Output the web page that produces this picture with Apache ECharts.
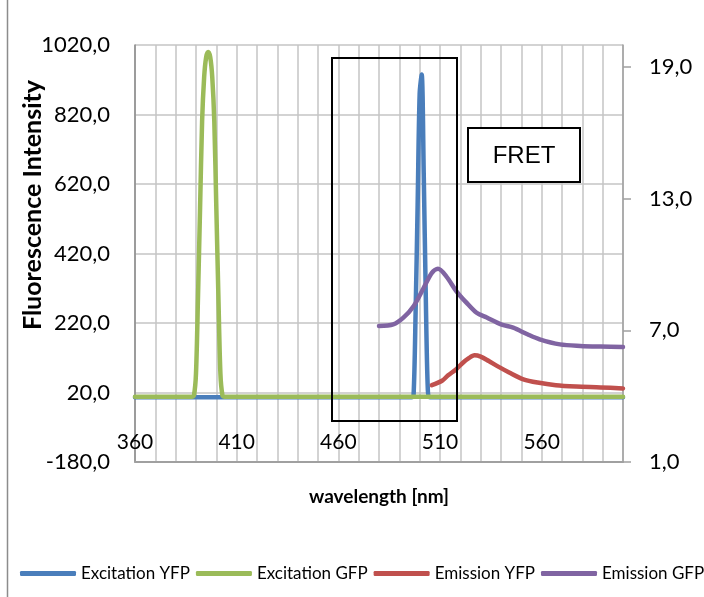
<!DOCTYPE html>
<html>
<head>
<meta charset="utf-8">
<script src="https://cdn.jsdelivr.net/npm/echarts@6/dist/echarts.min.js"></script>
<style>
  html, body { margin: 0; padding: 0; background: #fff; }
  #chart { width: 704px; height: 597px; }
</style>
</head>
<body>
<div id="chart"></div>
<script>
// Excitation spectra (left axis, fluorescence intensity)
const excitationYfpNm  = [360, 495, 496, 497, 498, 499, 500, 501, 502, 503, 504, 505, 600];
const excitationYfpVal = [6, 6, 6, 12, 250, 560, 880, 935, 650, 300, 30, 6, 6];

const excitationGfpNm  = [360, 388, 389, 390, 391, 392, 393, 394, 395, 396, 397, 398, 399, 400, 401, 402, 403, 404, 600];
const excitationGfpVal = [8, 8, 12, 75, 300, 550, 800, 927, 985, 1000, 985, 927, 800, 550, 300, 75, 12, 8, 8];

// Emission spectra (right axis)
const emissionYfpNm  = [506, 511, 514, 518, 521, 524, 527, 530, 534, 538, 544, 551, 558, 567, 577, 589, 600];
const emissionYfpVal = [4.50, 4.70, 4.95, 5.23, 5.50, 5.72, 5.86, 5.80, 5.60, 5.38, 5.08, 4.77, 4.62, 4.50, 4.44, 4.40, 4.35];

const emissionGfpNm  = [480, 487, 492, 497, 502, 506, 509, 513, 518, 523, 528, 533, 540, 546, 553, 559, 569, 579, 589, 600];
const emissionGfpVal = [7.20, 7.27, 7.58, 8.10, 8.94, 9.62, 9.80, 9.47, 8.79, 8.26, 7.80, 7.58, 7.27, 7.12, 6.82, 6.59, 6.36, 6.29, 6.26, 6.24];

// Axis ticks
const xTickLabels = [360, 410, 460, 510, 560];
const rightTicks = [1, 7, 13, 19];

const seriesNames = ['Excitation YFP', 'Excitation GFP', 'Emission YFP', 'Emission GFP'];
const seriesColors = ['#4a7ebb', '#9bbb59', '#c0504d', '#8064a2'];

const pairs = (xs, ys) => xs.map((x, i) => [x, ys[i]]);
const comma = v => v.toFixed(1).replace('.', ',');

const FONT = 'Lato';
const chart = echarts.init(document.getElementById('chart'), null, { renderer: 'canvas' });

function lineSeries(idx, data, yAxisIndex) {
  return {
    name: seriesNames[idx],
    type: 'line',
    yAxisIndex: yAxisIndex,
    data: data,
    smooth: 0.3,
    symbol: 'none',
    color: seriesColors[idx],
    lineStyle: { width: 4.5, color: seriesColors[idx], cap: 'round', join: 'round' },
    emphasis: { disabled: true },
    animation: false
  };
}

chart.setOption({
  animation: false,
  backgroundColor: '#ffffff',
  grid: { left: 135, right: 81, top: 45, bottom: 135 },
  xAxis: {
    type: 'value',
    min: 360, max: 600, interval: 10,
    name: 'wavelength [nm]',
    nameLocation: 'middle',
    nameGap: 25,
    nameTextStyle: { fontFamily: FONT, fontWeight: 'bold', fontSize: 19, color: '#000' },
    axisLine: { onZero: false, lineStyle: { color: '#a0a0a0', width: 2 } },
    axisTick: { show: false },
    axisLabel: {
      inside: true, margin: 9,
      customValues: xTickLabels,
      fontFamily: FONT, fontSize: 21, color: '#000'
    },
    splitLine: { show: true, lineStyle: { color: '#c4c4c4', width: 1.5 } }
  },
  yAxis: [
    {
      type: 'value',
      min: -180, max: 1020, interval: 200,
      axisLine: { show: true, onZero: false, lineStyle: { color: '#8a8a8a', width: 1.5 } },
      axisTick: { show: false },
      axisLabel: { margin: 25, formatter: comma, fontFamily: FONT, fontSize: 22, color: '#000' },
      splitLine: { show: true, lineStyle: { color: '#c4c4c4', width: 1.5 } }
    },
    {
      type: 'value',
      min: 1, max: 20, interval: 6,
      position: 'right',
      axisLine: { show: true, onZero: false, lineStyle: { color: '#a0a0a0', width: 1.5 } },
      axisTick: { show: true, length: 8, customValues: rightTicks, lineStyle: { color: '#a0a0a0', width: 1.5 } },
      axisLabel: { margin: 26, customValues: rightTicks, formatter: comma, fontFamily: FONT, fontSize: 22, color: '#000' },
      splitLine: { show: false }
    }
  ],
  legend: {
    data: seriesNames,
    left: 20, top: 565, width: 700,
    padding: 0,
    icon: 'roundRect',
    itemWidth: 56, itemHeight: 5, itemGap: 6,
    textStyle: { fontFamily: FONT, fontSize: 17, color: '#000' },
    selectedMode: false
  },
  series: [
    lineSeries(0, pairs(excitationYfpNm, excitationYfpVal), 0),
    lineSeries(1, pairs(excitationGfpNm, excitationGfpVal), 0),
    lineSeries(2, pairs(emissionYfpNm, emissionYfpVal), 1),
    lineSeries(3, pairs(emissionGfpNm, emissionGfpVal), 1)
  ],
  graphic: [
    // chart area border (left edge)
    { type: 'line', shape: { x1: 7.5, y1: 0, x2: 7.5, y2: 597 }, style: { stroke: '#8c8c8c', lineWidth: 1.5 }, silent: true },
    // vertical axis title
    {
      type: 'text', x: 33, y: 205, rotation: Math.PI / 2,
      style: { text: 'Fluorescence Intensity', font: 'bold 25px Lato', fill: '#000', align: 'center', verticalAlign: 'middle' },
      silent: true
    },
    // FRET window
    { type: 'rect', shape: { x: 332, y: 58, width: 125, height: 363 }, style: { fill: 'none', stroke: '#000', lineWidth: 2 }, z: 100, silent: true },
    { type: 'rect', shape: { x: 468, y: 128, width: 112, height: 54 }, style: { fill: '#fff', stroke: '#000', lineWidth: 2 }, z: 100, silent: true },
    {
      type: 'text', x: 524, y: 156, z: 101,
      style: { text: 'FRET', font: '24px "Liberation Sans"', fill: '#000', align: 'center', verticalAlign: 'middle' },
      silent: true
    }
  ]
});
</script>
</body>
</html>
